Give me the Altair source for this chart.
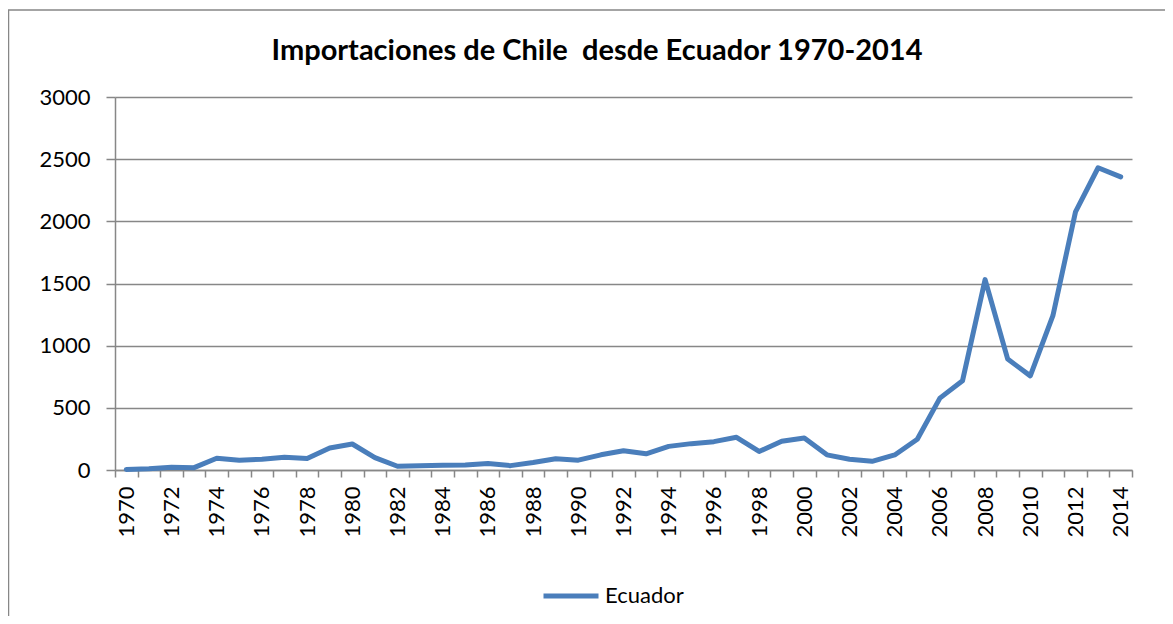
import altair as alt
import pandas as pd

years = list(range(1970, 2015))
values = [5, 10, 22, 19, 95, 79, 87, 103, 92, 177, 209, 100, 30, 35, 38, 41, 52, 35, 60, 90,
          79, 122, 155, 130, 190, 212, 228, 263, 149, 231, 258, 122, 87, 70, 121, 247, 578, 717,
          1531, 892, 757, 1241, 2076, 2431, 2358]
series = ["Ecuador"] * len(years)
title_text = "Importaciones de Chile \u00a0desde Ecuador 1970-2014"
y_ticks = [0, 500, 1000, 1500, 2000, 2500, 3000]

df = pd.DataFrame({"year": years, "value": values, "serie": series})

FONT = "Lato"
GREY = "#878787"
W, H = 1017, 373

line = alt.Chart(df).mark_line(strokeWidth=5, strokeJoin="round", strokeCap="round").encode(
    x=alt.X("year:O", bandPosition=0.5,
            scale=alt.Scale(type="band", paddingInner=0, paddingOuter=0),
            axis=alt.Axis(title=None, labelAngle=-90, tickBand="extent",
                          labelExpr="datum.value % 2 == 0 ? datum.label : ''",
                          labelOverlap=False, labelFontSize=22, labelColor="#000000",
                          labelFont=FONT, labelPadding=9, labelBaseline="middle", labelAlign="right",
                          tickSize=7, tickColor=GREY, tickWidth=1.5, domainColor=GREY,
                          domainWidth=1.5, grid=False)),
    y=alt.Y("value:Q", scale=alt.Scale(domain=[0, 3000], nice=False),
            axis=alt.Axis(title=None, values=y_ticks, format="d",
                          labelFontSize=22, labelColor="#000000", labelFont=FONT,
                          labelPadding=16, tickSize=9, tickColor=GREY, tickWidth=1.5,
                          domainColor=GREY, domainWidth=1.5, grid=True, gridColor=GREY,
                          gridWidth=1.5)),
    color=alt.Color("serie:N", scale=alt.Scale(range=["#4a7ebb"]),
                    legend=alt.Legend(title=None, orient="none", legendX=426, legendY=469,
                                      symbolType="stroke", symbolSize=3025,
                                      symbolStrokeWidth=5, labelFontSize=22,
                                      labelFont=FONT, labelColor="#000000", labelOffset=4)),
)

border = alt.Chart(df).mark_rect(fill=None, stroke=GREY, strokeWidth=1.5).encode(
    x=alt.value(-106.5), x2=alt.value(1200), y=alt.value(-87), y2=alt.value(700)
).transform_filter("datum.year == 1970")

title = alt.Chart(df).mark_text(fontSize=29, font=FONT, fontWeight="bold", color="#000000",
                                align="center", baseline="alphabetic").encode(
    x=alt.value(482), y=alt.value(-37.5), text=alt.value(title_text)
).transform_filter("datum.year == 1970")

chart = alt.layer(border, line, title).properties(
    width=W, height=H,
    autosize=alt.AutoSizeParams(type="none"),
    padding={"left": 107, "top": 89, "right": 33, "bottom": 146},
).configure_view(stroke=None)

chart.save("out.html", embed_options={"renderer": "svg", "actions": False})
